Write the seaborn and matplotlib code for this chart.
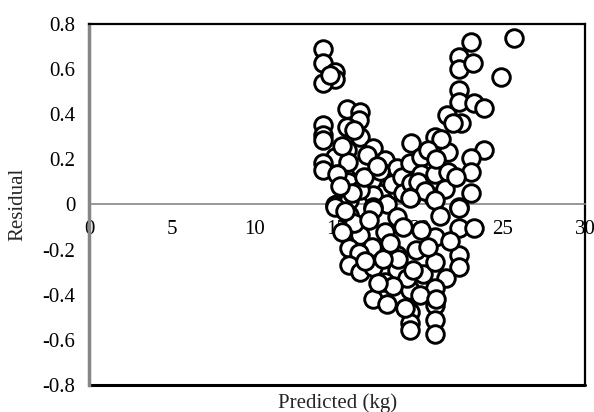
import matplotlib
matplotlib.use("Agg")
import matplotlib.pyplot as plt
import seaborn as sns

# ─── Data ────────────────────────────────────────────────
# upper-left group, x ~ 14-15
x_top_left = [14.13, 14.13, 14.88, 14.88, 14.13, 14.6]
y_top_left = [0.69, 0.628, 0.588, 0.554, 0.536, 0.575]

# left / middle body, y > 0
x_mid_pos = [15.58, 16.39, 16.35, 15.58, 14.15, 14.15, 14.15, 16.39, 15.58, 14.88,
             14.15, 14.15, 17.16, 16.39, 15.68, 15.68, 15.0, 17.9, 17.9, 17.1,
             17.2, 16.4, 15.0, 14.9, 15.7, 18.0, 17.2, 18.6, 18.6, 16.0,
             15.3, 16.8, 17.6, 18.3, 15.9, 16.6, 18.9, 19.0, 17.4, 15.2]
y_mid_pos = [0.423, 0.41, 0.374, 0.344, 0.352, 0.307, 0.285, 0.30, 0.241, 0.211,
             0.182, 0.152, 0.248, 0.167, 0.189, 0.10, 0.137, 0.197, 0.123, 0.108,
             0.041, 0.064, 0.004, -0.003, 0.019, 0.004, -0.01, 0.064, 0.16, 0.33,
             0.26, 0.22, 0.15, 0.09, 0.05, 0.12, 0.12, 0.05, 0.17, 0.08]

# right arm, x ~ 19-26
x_right = [19.5, 19.4, 19.5, 19.5, 20.1, 20.1, 20.9, 20.9, 20.8, 21.65,
           21.7, 21.7, 22.4, 22.4, 23.1, 23.2, 22.4, 22.4, 23.3, 23.9,
           22.5, 24.9, 25.7, 23.9, 23.1, 23.1, 23.1, 22.4, 21.3, 20.5,
           19.9, 21.0, 22.0, 20.3, 21.5, 22.2]
y_right = [0.273, 0.182, 0.093, 0.034, 0.211, 0.137, 0.30, 0.137, 0.034, 0.396,
           0.233, 0.145, 0.655, 0.598, 0.721, 0.625, 0.507, 0.455, 0.451, 0.426,
           0.359, 0.566, 0.736, 0.241, 0.204, 0.145, 0.049, -0.01, 0.29, 0.24,
           0.10, 0.20, 0.36, 0.06, 0.07, 0.12]

# lower body, y < 0
x_low = [14.9, 15.7, 16.4, 17.2, 17.9, 18.6, 19.4, 20.9, 22.4, 22.4,
         23.3, 20.9, 20.1, 15.7, 17.1, 16.3, 15.7, 16.4, 17.2, 18.6,
         18.6, 20.2, 20.9, 22.4, 22.4, 21.6, 19.4, 20.9, 17.2, 18.0,
         20.9, 19.4, 19.4, 19.4, 20.9, 20.9, 17.9, 19.2, 18.7, 17.8,
         20.0, 16.0, 15.3, 16.9, 18.2, 19.0, 19.8, 21.2, 21.8, 15.5,
         16.7, 18.4, 19.6, 20.5, 17.5, 21.0, 19.1]
y_low = [-0.01, -0.047, -0.136, -0.018, -0.121, -0.055, 0.027, 0.019, -0.015, -0.106,
         -0.106, -0.143, -0.114, -0.195, -0.188, -0.217, -0.269, -0.298, -0.276, -0.291,
         -0.225, -0.306, -0.254, -0.225, -0.276, -0.328, -0.38, -0.372, -0.417, -0.439,
         -0.446, -0.476, -0.527, -0.557, -0.513, -0.572, -0.343, -0.328, -0.24, -0.24,
         -0.40, -0.08, -0.12, -0.07, -0.17, -0.10, -0.20, -0.05, -0.16, -0.03,
         -0.25, -0.36, -0.29, -0.19, -0.35, -0.42, -0.46]

x_vals = x_top_left + x_mid_pos + x_right + x_low
y_vals = y_top_left + y_mid_pos + y_right + y_low

x_ticks = [0, 5, 10, 15, 20, 25, 30]
y_ticks = [-0.8, -0.6, -0.4, -0.2, 0, 0.2, 0.4, 0.6, 0.8]

# ─── Plot ────────────────────────────────────────────────
sns.set_style("white")
plt.rcParams["font.family"] = ["Liberation Serif", "DejaVu Serif"]

fig = plt.figure(figsize=(5.94, 4.12), dpi=100)
ax = fig.add_axes([0.150, 0.0655, 0.835, 0.8765])

sns.scatterplot(x=x_vals, y=y_vals, ax=ax, s=160, color="white",
                edgecolor="black", linewidth=2.1, zorder=3)

ax.set_xlim(0, 30)
ax.set_ylim(-0.8, 0.8)
ax.set_xticks(x_ticks)
ax.set_xticklabels([str(t) for t in x_ticks])
ax.set_yticks(y_ticks)
ax.set_yticklabels(["0" if t == 0 else f"{t:.1f}" for t in y_ticks])

grey = "#868686"
ax.spines["bottom"].set_position(("data", 0))
ax.spines["bottom"].set_color(grey)
ax.spines["bottom"].set_linewidth(1.2)
ax.spines["left"].set_color(grey)
ax.spines["left"].set_linewidth(2.5)
for side in ["top", "right"]:
    ax.spines[side].set_color("black")
    ax.spines[side].set_linewidth(1.6)
# outer frame bottom edge
ax.plot([0, 1], [0, 0], transform=ax.transAxes, color="black", lw=2.2,
        clip_on=False, zorder=2.5)

ax.tick_params(axis="both", direction="inout", length=8, width=1,
               color=grey, labelsize=15, labelcolor="black")
ax.tick_params(axis="x", pad=7)
ax.tick_params(axis="y", pad=6)

ax.set_xlabel("Predicted (kg)", fontsize=15)
ax.set_ylabel("Residual", fontsize=15)
ax.xaxis.set_label_coords(0.5, -0.022)
ax.yaxis.set_label_coords(-0.125, 0.5)

plt.savefig("out.png", dpi=100)
plt.close()
